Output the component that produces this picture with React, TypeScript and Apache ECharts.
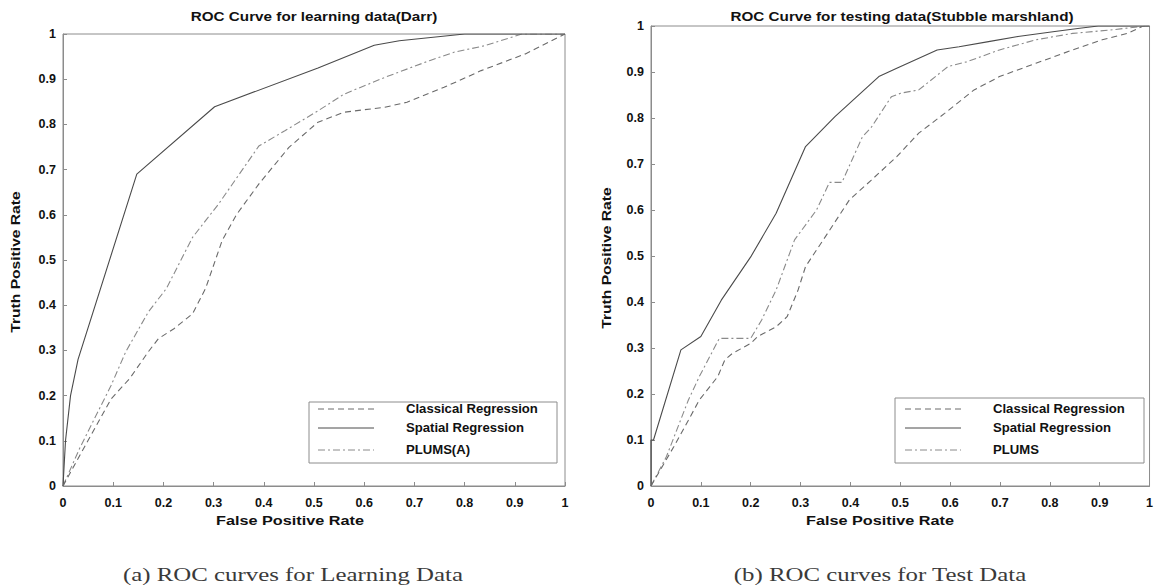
import React, { useEffect, useRef } from "react";
import * as echarts from "echarts";

// Tick values shared by both axes
const tickValues = [0, 0.1, 0.2, 0.3, 0.4, 0.5, 0.6, 0.7, 0.8, 0.9, 1];

// (a) Learning data
const learnClassical: [number, number][] = [
  [0, 0], [0.037, 0.075], [0.096, 0.193], [0.133, 0.238], [0.17, 0.297], [0.19, 0.326],
  [0.221, 0.348], [0.258, 0.381], [0.284, 0.437], [0.317, 0.543], [0.346, 0.601],
  [0.39, 0.668], [0.45, 0.749], [0.508, 0.805], [0.56, 0.827], [0.641, 0.838],
  [0.685, 0.849], [0.759, 0.882], [0.833, 0.919], [0.921, 0.956], [1, 1],
];
const learnSpatial: [number, number][] = [
  [0, 0], [0.005, 0.1], [0.015, 0.2], [0.03, 0.28], [0.147, 0.69], [0.302, 0.839],
  [0.508, 0.925], [0.62, 0.975], [0.67, 0.985], [0.8, 1], [1, 1],
];
const learnPlums: [number, number][] = [
  [0, 0], [0.033, 0.083], [0.096, 0.223], [0.125, 0.297], [0.17, 0.385], [0.206, 0.437],
  [0.258, 0.55], [0.31, 0.624], [0.39, 0.752], [0.442, 0.786], [0.508, 0.83],
  [0.56, 0.867], [0.641, 0.904], [0.73, 0.941], [0.78, 0.96], [0.84, 0.974],
  [0.914, 1], [1, 1],
];

// (b) Test data
const testClassical: [number, number][] = [
  [0, 0], [0.046, 0.086], [0.075, 0.143], [0.097, 0.187], [0.134, 0.238], [0.148, 0.274],
  [0.163, 0.288], [0.2, 0.31], [0.214, 0.325], [0.251, 0.346], [0.273, 0.368],
  [0.295, 0.426], [0.31, 0.477], [0.354, 0.549], [0.398, 0.622], [0.442, 0.665],
  [0.493, 0.716], [0.537, 0.767], [0.589, 0.81], [0.648, 0.861], [0.699, 0.89],
  [0.772, 0.919], [0.846, 0.948], [0.905, 0.97], [0.956, 0.984], [0.985, 0.999], [1, 1],
];
const testSpatial: [number, number][] = [
  [0, 0], [0, 0.1], [0.005, 0.1], [0.06, 0.296], [0.1, 0.325], [0.141, 0.404],
  [0.2, 0.498], [0.251, 0.593], [0.31, 0.738], [0.369, 0.803], [0.457, 0.89],
  [0.493, 0.908], [0.574, 0.948], [0.618, 0.955], [0.677, 0.966], [0.736, 0.977],
  [0.81, 0.988], [0.86, 0.995], [0.897, 1], [1, 1],
];
const testPlums: [number, number][] = [
  [0, 0], [0.031, 0.064], [0.075, 0.187], [0.097, 0.238], [0.137, 0.321], [0.2, 0.321],
  [0.222, 0.361], [0.251, 0.426], [0.288, 0.535], [0.332, 0.6], [0.358, 0.66],
  [0.383, 0.66], [0.424, 0.759], [0.442, 0.78], [0.482, 0.846], [0.501, 0.854],
  [0.537, 0.861], [0.596, 0.912], [0.633, 0.922], [0.699, 0.948], [0.772, 0.97],
  [0.846, 0.984], [0.919, 0.991], [0.985, 0.999], [1, 1],
];

const titles = ["ROC Curve for learning data(Darr)", "ROC Curve for testing data(Stubble marshland)"];
const legendLeft = ["Classical Regression", "Spatial Regression", "PLUMS(A)"];
const legendRight = ["Classical Regression", "Spatial Regression", "PLUMS"];
const captions = ["(a) ROC curves for Learning Data", "(b) ROC curves for Test Data"];
const xAxisTitle = "False Positive Rate";
const yAxisTitle = "Truth Positive Rate";

const SANS = "Liberation Sans, Arial, sans-serif";
const SERIF = "Liberation Serif, Times New Roman, serif";

const lineStyles = [
  { color: "#6a6a6a", type: [6, 4] as any, width: 1.1 },
  { color: "#4a4a4a", type: "solid" as any, width: 1.1 },
  { color: "#8a8a8a", type: [7, 3, 2, 3] as any, width: 1.1 },
];

const grids = [
  { left: 63, top: 34, width: 502, height: 452 },
  { left: 651, top: 26, width: 502, height: 460 },
];

function fmt(v: number) {
  const found = tickValues.find((t) => Math.abs(t - v) < 1e-6);
  if (found === undefined) return "";
  return String(found);
}

export default function App() {
  const ref = useRef<HTMLDivElement>(null);
  useEffect(() => {
    if (!ref.current) return;
    const chart = echarts.init(ref.current, null, { renderer: "svg" });

    const labelStyle = {
      formatter: fmt,
      color: "#111",
      fontFamily: SANS,
      fontWeight: "bold",
      fontSize: 12.5,
      showMinLabel: true,
      showMaxLabel: true,
    };
    const xAxes = grids.map((_, i) => ({
      type: "value",
      gridIndex: i,
      min: 0,
      max: 1,
      interval: 0.1,
      axisLine: { show: true, lineStyle: { color: "#8c8c8c", width: 1 } },
      axisTick: { show: true, inside: true, length: 4, lineStyle: { color: "#8c8c8c" } },
      axisLabel: { ...labelStyle, margin: 10 },
      splitLine: { show: false },
    }));
    const yAxes = grids.map((_, i) => ({
      type: "value",
      gridIndex: i,
      min: 0,
      max: 1,
      interval: 0.1,
      axisLine: { show: true, lineStyle: { color: "#8c8c8c", width: 1 } },
      axisTick: { show: true, inside: true, length: 4, lineStyle: { color: "#8c8c8c" } },
      axisLabel: { ...labelStyle, margin: 7 },
      splitLine: { show: false },
    }));

    const datasets = [
      [learnClassical, learnSpatial, learnPlums],
      [testClassical, testSpatial, testPlums],
    ];
    const names = [legendLeft, legendRight];
    const series: any[] = [];
    datasets.forEach((group, gi) => {
      group.forEach((data, si) => {
        series.push({
          type: "line",
          name: names[gi][si] + (gi === 1 ? " " : ""),
          xAxisIndex: gi,
          yAxisIndex: gi,
          data,
          showSymbol: false,
          symbol: "none",
          lineStyle: lineStyles[si],
          z: 3 - si,
        });
      });
    });

    const graphic: any[] = [];
    const legendBoxes = [
      { x: 309, y: 402, w: 248, h: 61, lx1: 318, lx2: 374, tx: 406 },
      { x: 895, y: 398, w: 249, h: 65, lx1: 905, lx2: 961, tx: 993 },
    ];
    const rowsY = [409, 428, 450];
    legendBoxes.forEach((b, gi) => {
      graphic.push({
        type: "rect",
        shape: { x: b.x, y: b.y, width: b.w, height: b.h },
        style: { fill: "#fff", stroke: "#8c8c8c", lineWidth: 1 },
        z: 10,
      });
      names[gi].forEach((n, si) => {
        graphic.push({
          type: "line",
          shape: { x1: b.lx1, y1: rowsY[si], x2: b.lx2, y2: rowsY[si] },
          style: { stroke: lineStyles[si].color, lineWidth: 1, lineDash: si === 1 ? null : lineStyles[si].type },
          z: 11,
        });
        graphic.push({
          type: "text",
          x: b.tx,
          y: rowsY[si],
          scaleX: 1.05,
          style: {
            text: n,
            font: `bold 12.5px ${SANS}`,
            fill: "#111",
            textVerticalAlign: "middle",
            textAlign: "left",
          },
          z: 11,
        });
      });
    });

    const titleCenters = [314, 902];
    titles.forEach((t, i) => {
      graphic.push({
        type: "text",
        x: titleCenters[i],
        y: 17,
        scaleX: 1.22,
        style: { text: t, font: `bold 12.5px ${SANS}`, fill: "#111", textAlign: "center", textVerticalAlign: "middle" },
      });
    });
    const xTitleCenters = [290, 880];
    xTitleCenters.forEach((cx) => {
      graphic.push({
        type: "text",
        x: cx,
        y: 521,
        scaleX: 1.3,
        style: { text: xAxisTitle, font: `bold 12.5px ${SANS}`, fill: "#111", textAlign: "center", textVerticalAlign: "middle" },
      });
    });
    const yTitleX = [16, 607];
    const yTitleY = [262, 258];
    yTitleX.forEach((x, i) => {
      graphic.push({
        type: "text",
        x,
        y: yTitleY[i],
        rotation: Math.PI / 2,
        scaleX: 1.25,
        style: { text: yAxisTitle, font: `bold 12.5px ${SANS}`, fill: "#111", textAlign: "center", textVerticalAlign: "middle" },
      });
    });
    const capCenters = [293, 880];
    captions.forEach((c, i) => {
      graphic.push({
        type: "text",
        x: capCenters[i],
        y: 575,
        scaleX: 1.38,
        style: { text: c, font: `18px ${SERIF}`, fill: "#3a3a3a", textAlign: "center", textVerticalAlign: "middle" },
      });
    });

    chart.setOption({
      animation: false,
      backgroundColor: "#ffffff",
      grid: grids.map((g) => ({ ...g, show: true, borderColor: "#8c8c8c", borderWidth: 1, backgroundColor: "transparent" })),
      xAxis: xAxes,
      yAxis: yAxes,
      series,
      graphic,
    });
    return () => chart.dispose();
  }, []);
  return (
    <div
      ref={ref}
      style={{ position: "fixed", left: 0, top: 0, width: 1156, height: 587, background: "#fff" }}
    />
  );
}
